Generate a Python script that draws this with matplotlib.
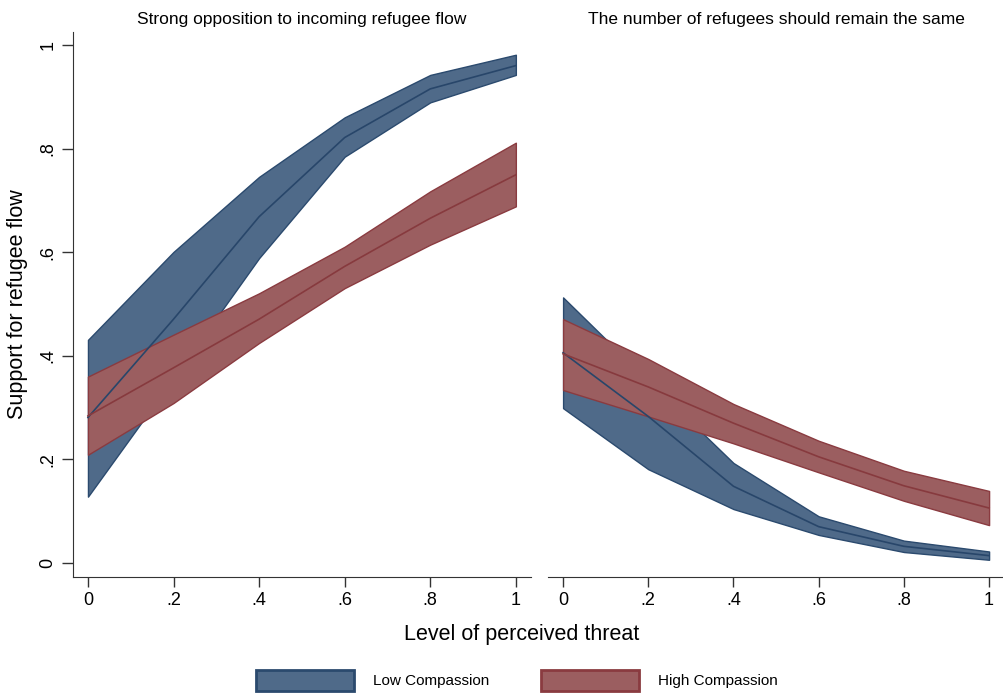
import matplotlib
matplotlib.use("Agg")
import matplotlib.pyplot as plt
from matplotlib.patches import Patch
import numpy as np

plt.rcParams['font.family'] = ['Liberation Sans', 'DejaVu Sans']

x = [0, 0.2, 0.4, 0.6, 0.8, 1.0]

# Panel 1: Strong opposition to incoming refugee flow
p1_low_mid = [0.281, 0.471, 0.669, 0.822, 0.916, 0.961]
p1_low_lo = [0.128, 0.357, 0.589, 0.785, 0.890, 0.943]
p1_low_hi = [0.431, 0.601, 0.746, 0.861, 0.943, 0.982]
p1_high_mid = [0.284, 0.377, 0.471, 0.573, 0.666, 0.750]
p1_high_lo = [0.209, 0.309, 0.425, 0.531, 0.615, 0.689]
p1_high_hi = [0.360, 0.441, 0.521, 0.611, 0.718, 0.812]

# Panel 2: The number of refugees should remain the same
p2_low_mid = [0.406, 0.283, 0.148, 0.070, 0.032, 0.014]
p2_low_lo = [0.299, 0.181, 0.104, 0.054, 0.021, 0.006]
p2_low_hi = [0.513, 0.352, 0.193, 0.090, 0.043, 0.022]
p2_high_mid = [0.404, 0.340, 0.270, 0.205, 0.149, 0.106]
p2_high_lo = [0.334, 0.283, 0.231, 0.175, 0.120, 0.073]
p2_high_hi = [0.471, 0.394, 0.307, 0.236, 0.178, 0.139]

titles = ["Strong opposition to incoming refugee flow",
          "The number of refugees should remain the same"]
xticks = [0, 0.2, 0.4, 0.6, 0.8, 1.0]
xticklabels = ["0", ".2", ".4", ".6", ".8", "1"]
yticks = [0, 0.2, 0.4, 0.6, 0.8, 1.0]
yticklabels = ["0", ".2", ".4", ".6", ".8", "1"]
legend_labels = ["Low Compassion", "High Compassion"]

blue_fill = "#4f6a89"
blue_edge = "#2b4a6e"
blue_line = "#28466a"
red_fill = "#9b5e60"
red_edge = "#8a3b40"
red_line = "#873a3e"

fig = plt.figure(figsize=(10.04, 6.95), dpi=100)
ax1 = fig.add_axes([0.0727, 0.170, 0.456, 0.784])
ax2 = fig.add_axes([0.546, 0.170, 0.454, 0.784], sharey=ax1)

panels = [
    (ax1, p1_low_mid, p1_low_lo, p1_low_hi, p1_high_mid, p1_high_lo, p1_high_hi),
    (ax2, p2_low_mid, p2_low_lo, p2_low_hi, p2_high_mid, p2_high_lo, p2_high_hi),
]

for i, (ax, lm, ll, lh, hm, hl, hh) in enumerate(panels):
    ax.fill_between(x, ll, lh, facecolor=blue_fill, edgecolor=blue_edge, linewidth=1.0, zorder=1)
    ax.fill_between(x, hl, hh, facecolor=red_fill, edgecolor=red_edge, linewidth=1.0, zorder=2)
    ax.plot(x, lm, color=blue_line, linewidth=1.2, zorder=3)
    ax.plot(x, hm, color=red_line, linewidth=1.2, zorder=3)
    ax.set_xlim(-0.035, 1.035)
    ax.set_ylim(-0.027, 1.026)
    ax.set_xticks(xticks)
    ax.set_xticklabels(xticklabels, fontsize=13)
    ax.set_title(titles[i], fontsize=12.5, pad=6)
    for s in ["top", "right"]:
        ax.spines[s].set_visible(False)
    ax.spines["bottom"].set_color("#333333")
    ax.spines["left"].set_color("#333333")
    ax.tick_params(axis='x', length=7, width=1, color="#333333", pad=4)
    ax.tick_params(axis='y', length=8, width=1, color="#333333", pad=4)

ax1.set_yticks(yticks)
ax1.set_yticklabels(yticklabels, fontsize=13, rotation=90, va='center')
ax1.set_ylabel("Support for refugee flow", fontsize=15.5, labelpad=8)
ax2.spines["left"].set_visible(False)
ax2.tick_params(axis='y', left=False, labelleft=False)

fig.text(0.52, 0.087, "Level of perceived threat", fontsize=15.5, ha='center', va='center')

handles = [Patch(facecolor=blue_fill, edgecolor=blue_edge, linewidth=2),
           Patch(facecolor=red_fill, edgecolor=red_edge, linewidth=2)]
leg = fig.legend(handles, legend_labels, loc='center', bbox_to_anchor=(0.515, 0.021),
                 ncol=2, frameon=False, fontsize=11, handlelength=6.4, handleheight=1.75,
                 columnspacing=3.4, handletextpad=1.25)

fig.savefig("out.png", dpi=100)
